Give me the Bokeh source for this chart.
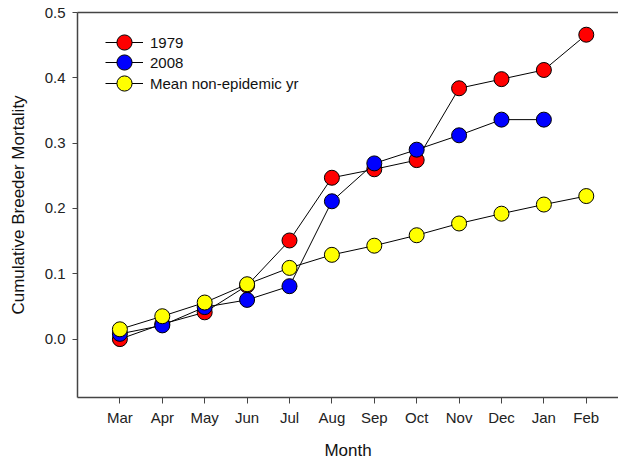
from bokeh.plotting import figure
from bokeh.models import (ColumnDataSource, FixedTicker, LinearAxis, Range1d, Legend,
                          LegendItem, CustomJSTickFormatter)
from bokeh.embed import file_html
from bokeh.resources import INLINE

months = ["Mar", "Apr", "May", "Jun", "Jul", "Aug", "Sep", "Oct", "Nov", "Dec", "Jan", "Feb"]
y1979 = [0.000, 0.023, 0.041, 0.082, 0.151, 0.247, 0.260, 0.274, 0.384, 0.398, 0.412, 0.466]
y2008 = [0.008, 0.021, 0.049, 0.060, 0.081, 0.211, 0.269, 0.290, 0.312, 0.336, 0.336]
ymean = [0.015, 0.035, 0.056, 0.084, 0.109, 0.129, 0.143, 0.159, 0.177, 0.192, 0.206, 0.219]
y_ticks = [0.0, 0.1, 0.2, 0.3, 0.4, 0.5]

FONT = "Liberation Sans"
AXIS_COLOR = "#444444"

p = figure(width=618, height=464, output_backend="svg", toolbar_location=None,
           x_range=Range1d(-1, 11.76), y_range=Range1d(-0.0894, 0.5),
           min_border_left=77, min_border_right=0, min_border_top=12, min_border_bottom=67)
p.outline_line_color = None
p.grid.grid_line_color = None
p.background_fill_color = "white"

series = [("1979", y1979, "#ff0000"), ("2008", y2008, "#0000ff"),
          ("Mean non-epidemic yr", ymean, "#ffff00")]
legend_y = [336, 316, 295]
for (name, ys, col), ly in zip(series, legend_y):
    src = ColumnDataSource(dict(x=list(range(len(ys))), y=ys))
    ln = p.line("x", "y", source=src, line_color="black", line_width=1)
    sc = p.scatter("x", "y", source=src, size=15, fill_color=col, line_color="black", line_width=1)
    lg = Legend(items=[LegendItem(label=name, renderers=[ln, sc])], location=(28, ly),
                border_line_color=None, background_fill_alpha=0,
                label_text_font=FONT, label_text_font_size="15px", label_text_color="#111111",
                glyph_width=38, glyph_height=38, label_height=38, spacing=0, padding=0,
                margin=0, label_standoff=7)
    p.add_layout(lg, "center")

xa = p.xaxis[0]
xa.ticker = FixedTicker(ticks=list(range(len(months))))
xa.major_label_overrides = {i: m for i, m in enumerate(months)}
xa.axis_label = "Month"
ya = p.yaxis[0]
ya.ticker = FixedTicker(ticks=y_ticks)
ya.axis_label = "Cumulative Breeder Mortality"
ya.formatter = CustomJSTickFormatter(code="return tick.toFixed(1);")

for ax in (xa, ya):
    ax.axis_line_color = AXIS_COLOR
    ax.axis_line_width = 1.5
    ax.major_tick_line_color = AXIS_COLOR
    ax.major_tick_line_width = 1
    ax.major_tick_in = 0
    ax.major_tick_out = 5
    ax.minor_tick_line_color = None
    ax.major_label_text_font = FONT
    ax.major_label_text_font_size = "15px"
    ax.major_label_text_color = "#222222"
    ax.axis_label_text_font = FONT
    ax.axis_label_text_font_size = "17px"
    ax.axis_label_text_font_style = "normal"
    ax.axis_label_text_color = "#111111"
xa.major_tick_out = 6
xa.major_label_standoff = 5
xa.axis_label_standoff = 12
ya.major_label_standoff = 7
ya.axis_label_standoff = 14

top = LinearAxis(ticker=FixedTicker(ticks=[]), major_label_text_font_size="0px",
                 axis_line_color=AXIS_COLOR, axis_line_width=1.5,
                 major_tick_line_color=None, minor_tick_line_color=None)
p.add_layout(top, "above")

open("out.html", "w").write(file_html(p, INLINE))
